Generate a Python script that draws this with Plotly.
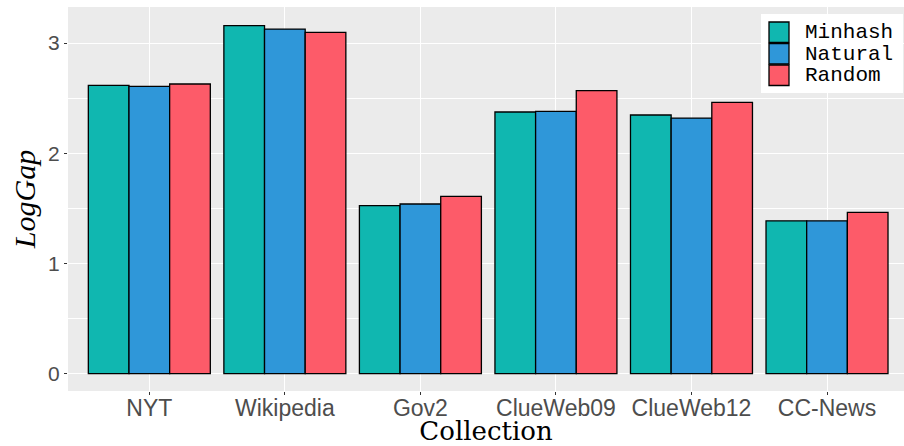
import plotly.graph_objects as go

collections = ["NYT", "Wikipedia", "Gov2", "ClueWeb09", "ClueWeb12", "CC-News"]
series_names = ["Minhash", "Natural", "Random"]
minhash = [2.616, 3.158, 1.524, 2.374, 2.347, 1.386]
natural = [2.607, 3.127, 1.539, 2.380, 2.319, 1.386]
random_ = [2.628, 3.097, 1.609, 2.568, 2.462, 1.464]
y_ticks = [0, 1, 2, 3]

colors = ["#10B7B0", "#2F97D9", "#FD5B69"]
values = [minhash, natural, random_]

W, H = 904, 446
L, R, T, B = 68, 0, 7, 55
pw, ph = W - L - R, H - T - B

fig = go.Figure()
for name, vals, c in zip(series_names, values, colors):
    fig.add_trace(go.Bar(
        x=collections, y=vals, name=name,
        marker=dict(color=c, line=dict(color="#000000", width=1.3)),
        showlegend=False,
    ))

# legend drawn as keys + labels (ggplot-style inside legend)
def px2x(px):
    return (px - L) / pw

def px2y(py):
    return (H - B - py) / ph

shapes = [dict(type="rect", xref="paper", yref="paper",
               x0=px2x(761), x1=px2x(903), y0=px2y(93), y1=px2y(14),
               fillcolor="white", line=dict(width=0), layer="above")]
annotations = []
key_tops = [22, 43.5, 65]
for name, c, kt in zip(series_names, colors, key_tops):
    shapes.append(dict(type="rect", xref="paper", yref="paper",
                       x0=px2x(769), x1=px2x(789), y0=px2y(kt + 20.5), y1=px2y(kt),
                       fillcolor=c, line=dict(color="#000000", width=1.3), layer="above"))
    annotations.append(dict(xref="paper", yref="paper", x=px2x(803), y=px2y(kt + 10.5),
                            text=name, showarrow=False, xanchor="left", yanchor="middle",
                            font=dict(family="Liberation Mono", size=21, color="#000000")))

fig.update_layout(
    width=W, height=H,
    margin=dict(l=L, r=R, t=T, b=B, pad=0),
    paper_bgcolor="white", plot_bgcolor="#EBEBEB",
    barmode="group", bargap=0.1, bargroupgap=0,
    shapes=shapes, annotations=annotations,
    xaxis=dict(
        type="category", range=[-0.6, 5.568],
        showgrid=True, gridcolor="white", gridwidth=1.1,
        ticks="outside", ticklen=3, tickcolor="#333333", tickwidth=1,
        ticklabelstandoff=-7,
        tickfont=dict(family="Liberation Sans", size=23, color="#4D4D4D"),
        showline=False, zeroline=False,
        title=dict(text="Collection", standoff=6,
                   font=dict(family="DejaVu Serif", size=26, color="#000000")),
    ),
    yaxis=dict(
        range=[-0.158, 3.327],
        tickvals=y_ticks, ticktext=[str(v) for v in y_ticks],
        showgrid=True, gridcolor="white", gridwidth=1.1,
        minor=dict(dtick=0.5, tick0=0, showgrid=True, gridcolor="white", gridwidth=0.5, ticks=""),
        ticks="outside", ticklen=3, tickcolor="#333333", tickwidth=1,
        tickfont=dict(family="Liberation Sans", size=21, color="#4D4D4D"),
        showline=False, zeroline=False,
        title=dict(text="<i>LogGap</i>", standoff=3,
                   font=dict(family="Liberation Serif", size=30, color="#000000")),
    ),
)

fig.write_html("out.html", config={"displayModeBar": False},
               post_script="document.body.style.margin='0';document.body.style.overflow='hidden';")
